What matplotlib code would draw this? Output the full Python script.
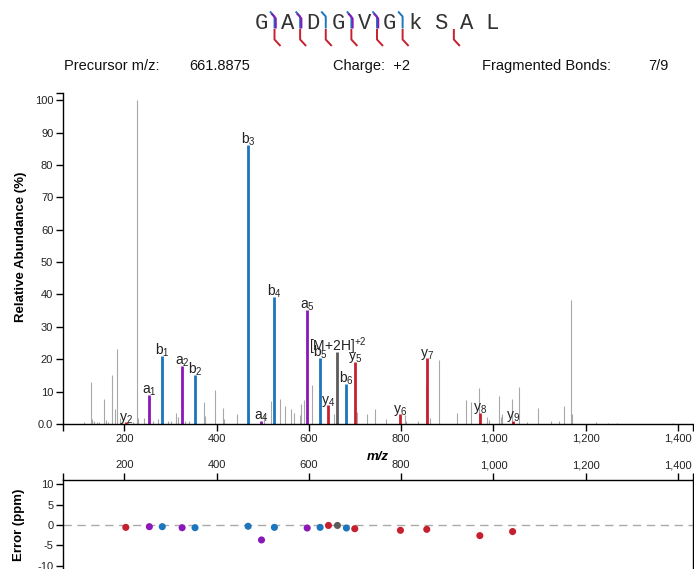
import matplotlib
matplotlib.use('Agg')
import matplotlib.pyplot as plt
from matplotlib.ticker import FuncFormatter

plt.rcParams['font.family'] = ['Liberation Sans', 'DejaVu Sans']
plt.rcParams['mathtext.fontset'] = 'custom'
plt.rcParams['mathtext.rm'] = 'Liberation Sans'
plt.rcParams['mathtext.it'] = 'Liberation Sans:italic'
plt.rcParams['mathtext.bf'] = 'Liberation Sans:bold'

# ---------------- data ----------------
sequence = list("GADGVGkSAL")
precursor_mz = "661.8875"
charge = "+2"
fragmented = "7/9"

ion_names = ['y2', 'a1', 'b1', 'a2', 'b2', 'b3', 'a4', 'b4', 'a5', 'b5',
             '[M+2H]+2', 'y4', 'b6', 'y5', 'y6', 'y7', 'y8', 'y9']
ion_mz = [203.14, 254.19, 282.18, 325.22, 353.22, 468.25, 497.27, 525.27, 596.34,
          624.34, 661.89, 642.42, 681.36, 699.44, 798.51, 855.53, 970.56, 1041.59]
ion_int = [0.5, 9.0, 21.0, 17.9, 15.1, 86.3, 0.8, 39.1, 35.2,
           20.3, 22.2, 5.9, 12.3, 19.2, 3.0, 20.4, 3.5, 1.0]
ion_err = [-0.57, -0.4, -0.4, -0.65, -0.65, -0.3, -3.66, -0.57, -0.73,
           -0.57, -0.1, -0.1, -0.73, -0.9, -1.3, -1.06, -2.6, -1.6]

other_mz = [113, 128.6, 130.5, 134, 140, 145, 156.8, 161, 165, 174, 180.5, 184.9, 190,
            195, 207, 218, 227.5, 230, 242, 262, 273, 295, 301, 311, 316.8, 331, 341,
            371.7, 374.5, 396.8, 412.8, 415, 443.7, 469.5, 503.6, 517.9, 536.6, 548,
            560.4, 567.6, 580.5, 583.6, 590, 606, 626, 655, 704.6, 726.3, 742.7, 766.5,
            809, 811, 835.6, 853, 863, 881.5, 922, 940, 951, 967.7, 985.6, 991.3,
            1011.6, 1016, 1019.6, 1039.5, 1056, 1072, 1097, 1124, 1142, 1152, 1168.7,
            1171, 1223, 1248, 1267, 1390]
other_int = [0.5, 13.0, 1.5, 0.8, 0.6, 0.5, 7.7, 1.3, 0.7, 15.2, 4.5, 23.3, 2.0,
             1.0, 0.6, 0.7, 100.0, 2.0, 2.0, 1.0, 1.5, 1.0, 1.0, 3.5, 2.3, 1.0, 1.0,
             6.8, 2.5, 10.5, 4.8, 1.5, 3.0, 3.0, 3.0, 7.1, 7.6, 5.5,
             4.5, 3.4, 2.8, 6.3, 7.3, 12.0, 1.5, 3.0, 3.8, 3.0, 4.7, 1.5,
             2.8, 1.0, 0.8, 12.0, 2.0, 19.8, 3.5, 7.5, 6.9, 11.0, 2.3, 1.2,
             8.6, 2.3, 3.0, 7.6, 11.5, 0.5, 4.8, 1.0, 0.8, 5.6, 38.4,
             3.2, 0.5, 0.4, 0.4, 0.4]

x_ticks = [200, 400, 600, 800, 1000, 1200, 1400]
y_ticks = [0, 10, 20, 30, 40, 50, 60, 70, 80, 90, 100]
err_ticks = [10, 5, 0, -5, -10]

colors = {'b': '#1c76bd', 'a': '#8a18b8', 'y': '#c6202f', 'M': '#5b5b5b'}
gray = '#a8a8a8'

W, H = 694, 569
fig = plt.figure(figsize=(W / 100, H / 100), dpi=100)

XL = (67, 1432)

def px_axes(x0, y_top, x1, y_bot):
    return [x0 / W, 1 - y_bot / H, (x1 - x0) / W, (y_bot - y_top) / H]

# ---------------- main spectrum ----------------
ax = fig.add_axes(px_axes(63, 92.7, 692.7, 424))
ax.vlines(other_mz, 0, other_int, color=gray, lw=0.8, zorder=1)
ion_types = [n[0] if n[0] in 'bay' else 'M' for n in ion_names]
ax.vlines(ion_mz, 0, ion_int, color=[colors[t] for t in ion_types], lw=2.0, zorder=2)

def label_text(n):
    if n.startswith('['):
        return r'[M+2H]$^{\mathregular{+2}}$'
    return n[0] + r'$_{\mathregular{' + n[1:] + '}}$'

for n, m, i in zip(ion_names, ion_mz, ion_int):
    ax.annotate(label_text(n), (m, i), xytext=(0, 1), textcoords='offset points',
                ha='center', va='baseline', fontsize=10, color='#222222', zorder=3)

ax.set_xlim(*XL)
ax.set_ylim(0, 102.3)
ax.set_xticks(x_ticks)
ax.set_yticks(y_ticks)
ax.set_xticks(list(XL), minor=True)
ax.set_yticks([102.3], minor=True)
ax.xaxis.set_major_formatter(FuncFormatter(lambda v, p: f"{int(v):,}"))
ax.yaxis.set_major_formatter(FuncFormatter(lambda v, p: "0.0" if v == 0 else f"{int(v)}"))
for s in ['top', 'right']:
    ax.spines[s].set_visible(False)
for s in ['left', 'bottom']:
    ax.spines[s].set_linewidth(1.0)
ax.tick_params(axis='both', which='both', direction='out', length=5, width=1.0,
               labelsize=8, pad=2, colors='black')
ax.tick_params(axis='y', labelcolor='#222222')
ax.tick_params(axis='x', labelcolor='#222222')
ax.set_ylabel('Relative Abundance (%)', fontsize=9.5, fontweight='bold')
ax.yaxis.set_label_coords(-0.057, 0.535)
ax.set_xlabel('m/z', fontsize=9.5, fontweight='bold', style='italic', labelpad=5)

# ---------------- error plot ----------------
ax2 = fig.add_axes(px_axes(63, 480, 692.7, 573.9))
ax2.axhline(0, color='#aaaaaa', lw=1.0, ls=(0, (6, 4)), zorder=1)
ax2.scatter(ion_mz, ion_err, s=26, c=[colors[t] for t in ion_types], zorder=3,
            linewidths=0)
ax2.set_xlim(*XL)
ax2.set_ylim(-12, 11.06)
ax2.xaxis.tick_top()
ax2.set_xticks(x_ticks)
ax2.set_xticks(list(XL), minor=True)
ax2.set_yticks(err_ticks)
ax2.xaxis.set_major_formatter(FuncFormatter(lambda v, p: f"{int(v):,}"))
ax2.yaxis.set_major_formatter(FuncFormatter(lambda v, p: f"{int(v)}"))
for s in ['top', 'left', 'right', 'bottom']:
    ax2.spines[s].set_linewidth(1.0)
ax2.tick_params(axis='both', which='both', direction='out', length=5, width=1.0,
                labelsize=8, pad=2, labelcolor='#222222')
ax2.tick_params(axis='x', which='both', top=True, bottom=False)
ax2.set_ylabel('Error (ppm)', fontsize=9.5, fontweight='bold')
ax2.yaxis.set_label_coords(-0.060, 0.52)

# ---------------- header ----------------
hy = 1 - 66 / H
hkw = dict(fontsize=10.5, va='center', ha='left', color='#111111')
fig.text(64 / W, hy, 'Precursor m/z:', **hkw)
fig.text(189 / W, hy, precursor_mz, **hkw)
fig.text(333 / W, hy, 'Charge:  ' + charge, **hkw)
fig.text(482 / W, hy, 'Fragmented Bonds:', **hkw)
fig.text(648 / W, hy, fragmented, **hkw)

# ---------------- sequence with fragment markers ----------------
axs = fig.add_axes([0, 0, 1, 1], zorder=-1)
axs.set_xlim(0, W)
axs.set_ylim(H, 0)
axs.axis('off')
x0, dx = 261.7, 25.62
for i, ch in enumerate(sequence):
    axs.text(x0 + i * dx, 28.5, ch, fontsize=16, family='Liberation Mono',
             ha='center', va='baseline', color='#333333')

nlen = len(sequence)
for n, t in zip(ion_names, ion_types):
    if t == 'M':
        continue
    k = int(n[1:])
    bond = k if t in 'ab' else nlen - k
    xb = x0 + (bond - 1) * dx + dx / 2
    if t == 'b':
        axs.plot([xb - 4.5, xb, xb], [11.5, 16.5, 28.5], color=colors['b'], lw=1.4,
                 solid_capstyle='butt')
    elif t == 'a':
        axs.plot([xb - 3.2, xb + 1.3, xb + 1.3], [13.5, 18.5, 28.5], color=colors['a'],
                 lw=1.4, solid_capstyle='butt', zorder=3)
    else:
        axs.plot([xb, xb, xb + 6], [29, 39.5, 46], color=colors['y'], lw=1.4,
                 solid_capstyle='butt')

fig.savefig('out.png', dpi=100)
